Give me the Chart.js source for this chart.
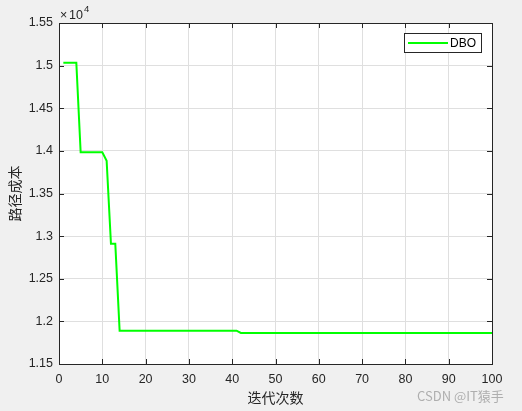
<!DOCTYPE html>
<html>
<head>
<meta charset="utf-8">
<script src="https://cdn.jsdelivr.net/npm/chart.js@4.4.0/dist/chart.umd.min.js"></script>
<style>
  html, body { margin: 0; padding: 0; background: #f0f0f0; }
  #wrap { width: 522px; height: 411px; position: relative; }
</style>
</head>
<body>
<div id="wrap"><canvas id="c" width="522" height="411"></canvas></div>
<script>
// 迭代曲线：DBO 收敛过程（只保留拐点）
const iterations = [1, 4, 5, 10, 11, 12, 13, 14, 41, 42, 100];
const pathCost   = [15035, 15035, 13983, 13983, 13885, 12911, 12911, 11891, 11891, 11864, 11864];
const seriesName = 'DBO';
const xTicks = [0, 10, 20, 30, 40, 50, 60, 70, 80, 90, 100];
const yTicks = [11500, 12000, 12500, 13000, 13500, 14000, 14500, 15000, 15500];
const yTickLabels = ['1.15', '1.2', '1.25', '1.3', '1.35', '1.4', '1.45', '1.5', '1.55'];

const FONT = 'Liberation Sans, Arial, Helvetica, sans-serif';
const CJK = '"Noto Sans CJK SC", sans-serif';

// MATLAB 风格：白色绘图区、向内刻度、外框、图例、坐标轴标题
const matlabLook = {
  id: 'matlabLook',
  beforeDraw(chart) {
    const { ctx, chartArea: a } = chart;
    ctx.save();
    ctx.fillStyle = '#ffffff';
    ctx.fillRect(a.left, a.top, a.right - a.left, a.bottom - a.top);
    ctx.restore();
  },
  afterDraw(chart) {
    const { ctx, chartArea: a, scales } = chart;
    const x = scales.x, y = scales.y;
    ctx.save();
    ctx.strokeStyle = '#262626';
    ctx.lineWidth = 1;
    ctx.beginPath();
    for (const v of xTicks) {
      const px = Math.round(x.getPixelForValue(v)) + 0.5;
      ctx.moveTo(px, a.bottom); ctx.lineTo(px, a.bottom - 5);
      ctx.moveTo(px, a.top); ctx.lineTo(px, a.top + 5);
    }
    for (const v of yTicks) {
      const py = Math.round(y.getPixelForValue(v)) + 0.5;
      ctx.moveTo(a.left, py); ctx.lineTo(a.left + 5, py);
      ctx.moveTo(a.right, py); ctx.lineTo(a.right - 5, py);
    }
    ctx.stroke();
    ctx.strokeRect(Math.round(a.left) + 0.5, Math.round(a.top) + 0.5,
                   Math.round(a.right - a.left), Math.round(a.bottom - a.top));

    // ×10^4
    ctx.fillStyle = '#262626';
    ctx.textBaseline = 'alphabetic';
    ctx.textAlign = 'left';
    ctx.font = '12.5px ' + FONT;
    ctx.fillText('\u00d7', a.left + 1, a.top - 4);
    ctx.fillText('10', a.left + 10, a.top - 4);
    const w = ctx.measureText('10').width;
    ctx.font = '9.5px ' + FONT;
    ctx.fillText('4', a.left + 10 + w + 1, a.top - 11);

    // 坐标轴标题
    ctx.font = '14px ' + CJK;
    ctx.textAlign = 'center';
    ctx.textBaseline = 'middle';
    ctx.fillText('迭代次数', (a.left + a.right) / 2, 398);
    ctx.save();
    ctx.translate(15, (a.top + a.bottom) / 2);
    ctx.rotate(-Math.PI / 2);
    ctx.fillText('路径成本', 0, 0);
    ctx.restore();

    // 图例
    const ds = chart.data.datasets[0];
    const lx = 404, ly = 33, lw = 77, lh = 19;
    ctx.fillStyle = '#ffffff';
    ctx.fillRect(lx, ly, lw, lh);
    ctx.strokeStyle = '#262626';
    ctx.strokeRect(lx + 0.5, ly + 0.5, lw, lh);
    ctx.strokeStyle = ds.borderColor;
    ctx.lineWidth = 2;
    ctx.beginPath();
    ctx.moveTo(lx + 4, ly + 10); ctx.lineTo(lx + 44, ly + 10);
    ctx.stroke();
    ctx.fillStyle = '#000000';
    ctx.font = '12px ' + FONT;
    ctx.textAlign = 'left';
    ctx.fillText(ds.label, lx + 46, ly + 10.5);

    // 水印
    ctx.fillStyle = 'rgba(120,120,120,0.55)';
    ctx.font = '13px ' + CJK;
    ctx.textAlign = 'left';
    ctx.fillText('CSDN @IT猿手', 417, 396);
    ctx.restore();
  }
};

new Chart(document.getElementById('c'), {
  type: 'line',
  data: {
    datasets: [{
      label: seriesName,
      data: iterations.map((it, i) => ({ x: it, y: pathCost[i] })),
      borderColor: '#00ff00',
      borderWidth: 2,
      pointRadius: 0,
      fill: false,
      tension: 0
    }]
  },
  options: {
    responsive: false,
    animation: false,
    layout: { padding: { top: 23, right: 30, left: 0, bottom: 0 } },
    plugins: { legend: { display: false }, tooltip: { enabled: false } },
    scales: {
      x: {
        type: 'linear', min: 0, max: 100,
        afterBuildTicks: s => { s.ticks = xTicks.map(v => ({ value: v })); },
        afterFit: s => { s.height = 47; },
        grid: { color: '#dfdfdf', drawTicks: false },
        border: { display: false },
        ticks: { color: '#262626', padding: 8, font: { family: FONT, size: 12.5 }, maxRotation: 0 }
      },
      y: {
        type: 'linear', min: 11500, max: 15500,
        afterBuildTicks: s => { s.ticks = yTicks.map(v => ({ value: v })); },
        afterFit: s => { s.width = 59; },
        grid: { color: '#dfdfdf', drawTicks: false },
        border: { display: false },
        ticks: {
          color: '#262626', padding: 6, font: { family: FONT, size: 12.5 },
          callback: v => yTickLabels[yTicks.indexOf(v)]
        }
      }
    }
  },
  plugins: [matlabLook]
});
</script>
</body>
</html>
